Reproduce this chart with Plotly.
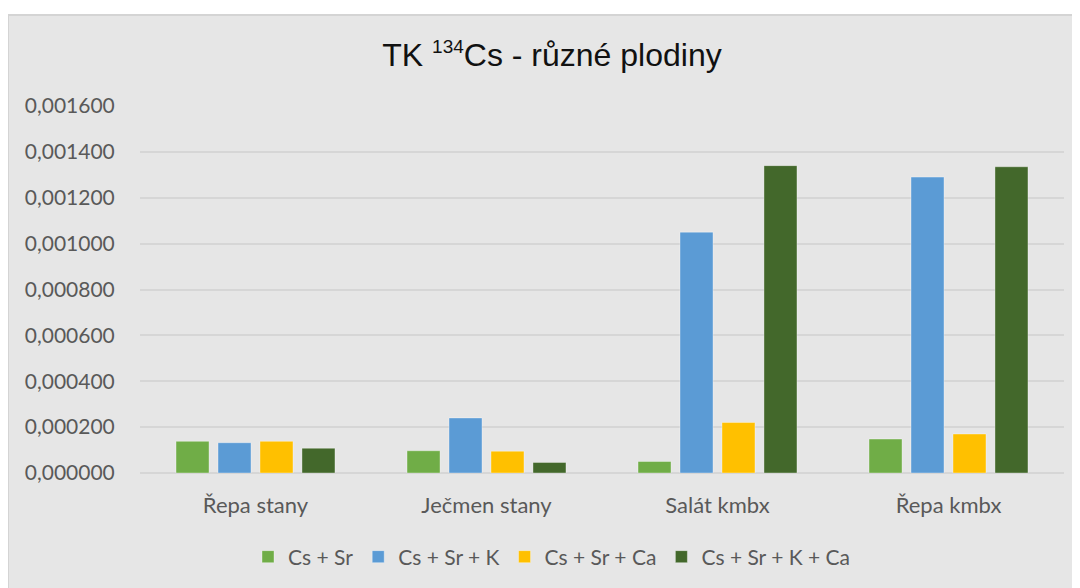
import plotly.graph_objects as go

categories = ["Řepa stany", "Ječmen stany", "Salát kmbx", "Řepa kmbx"]
series_names = ["Cs + Sr", "Cs + Sr + K", "Cs + Sr + Ca", "Cs + Sr + K + Ca"]
cs_sr = [0.000138, 0.000097, 0.000050, 0.000148]
cs_sr_k = [0.000132, 0.000240, 0.001050, 0.001290]
cs_sr_ca = [0.000138, 0.000095, 0.000220, 0.000170]
cs_sr_k_ca = [0.000108, 0.000046, 0.001340, 0.001335]
colors = ["#70ad47", "#5b9bd5", "#ffc000", "#43682b"]
tick_vals = [0, 0.0002, 0.0004, 0.0006, 0.0008, 0.0010, 0.0012, 0.0014, 0.0016]

W, H = 1080, 588
OFF = 8  # page body margin offset
L, R, T, B = 140 - OFF, 16 + OFF, 106 - OFF, 115 + OFF
pw, ph = W - L - R, H - T - B

def px_x(x):
    return (x - OFF - L) / pw

def px_y(y):
    return (H - B - (y - OFF)) / ph

fig = go.Figure()
for name, vals, c in zip(series_names, [cs_sr, cs_sr_k, cs_sr_ca, cs_sr_k_ca], colors):
    fig.add_trace(go.Bar(
        x=categories, y=vals, name=name,
        marker=dict(color=c, line=dict(color="rgba(255,255,255,0.35)", width=1)),
    ))

center_x = px_x(552)

fig.update_layout(
    width=W, height=H,
    margin=dict(l=L, r=R, t=T, b=B, pad=0),
    paper_bgcolor="white",
    plot_bgcolor="rgba(0,0,0,0)",
    separators=", ",
    barmode="group",
    bargap=0.273,
    bargroupgap=0.214,
    font=dict(family="Lato, Open Sans, sans-serif", size=21, color="#595959"),
    title=dict(
        text="TK <sup><span style='font-size:19px'>134</span></sup>Cs - různé plodiny",
        font=dict(family="Liberation Sans, Arial, sans-serif", size=32, color="#111111"),
        xref="paper", x=center_x, xanchor="center",
        yref="container", y=1 - (55 - OFF) / H, yanchor="middle",
    ),
    xaxis=dict(
        showgrid=False, zeroline=False, showline=False,
        ticks="outside", ticklen=13, tickcolor="rgba(0,0,0,0)",
        tickfont=dict(family="Lato, Open Sans, sans-serif", size=22, color="#595959"),
    ),
    yaxis=dict(
        range=[0, 0.0016], tickvals=tick_vals, tickformat=".6f",
        showgrid=True, gridcolor="#d6d6d6", gridwidth=1.5,
        zeroline=True, zerolinecolor="#d6d6d6", zerolinewidth=1.5,
        showline=False,
        ticks="outside", ticklen=20, tickcolor="rgba(0,0,0,0)",
        tickfont=dict(family="Lato, Open Sans, sans-serif", size=21, color="#595959"),
    ),
    legend=dict(
        orientation="h", xref="paper", yref="paper",
        x=center_x, xanchor="center", y=px_y(557), yanchor="middle",
        font=dict(family="Lato, Open Sans, sans-serif", size=21, color="#595959"),
        bgcolor="rgba(0,0,0,0)", itemclick=False,
    ),
    shapes=[dict(
        type="rect", xref="paper", yref="paper", layer="below",
        x0=px_x(8), x1=px_x(1095), y0=px_y(610), y1=px_y(15),
        fillcolor="#e6e6e6", line=dict(color="#d4d4d4", width=2),
    )],
)

fig.write_html("out.html")
